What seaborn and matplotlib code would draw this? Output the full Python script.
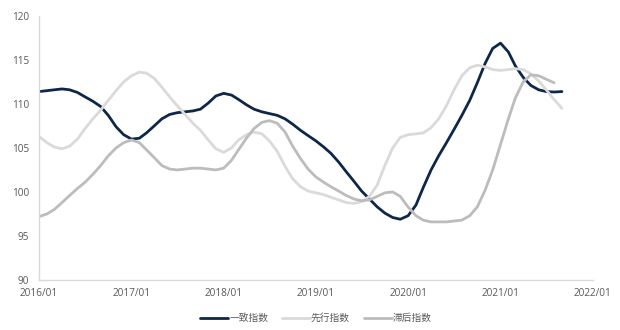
import numpy as np
import pandas as pd
import matplotlib
matplotlib.use("Agg")
import matplotlib.pyplot as plt
import matplotlib.dates as mdates
import seaborn as sns

start_month = "2016-01"
series_names = ["一致指数", "先行指数", "滞后指数"]

coincident = [111.4, 111.5, 111.6, 111.7, 111.6, 111.3, 110.8, 110.3, 109.7, 108.7,
              107.4, 106.5, 106.0, 106.1, 106.7, 107.5, 108.3, 108.8, 109.0, 109.1,
              109.2, 109.4, 110.1, 110.9, 111.2, 111.0, 110.5, 109.9, 109.4, 109.1,
              108.9, 108.7, 108.3, 107.7, 107.0, 106.4, 105.8, 105.1, 104.4, 103.4,
              102.3, 101.2, 100.1, 99.2, 98.3, 97.6, 97.1, 96.9, 97.3, 98.5,
              100.5, 102.5, 104.1, 105.6, 107.1, 108.7, 110.4, 112.4, 114.6, 116.3,
              116.9, 115.9, 114.3, 113.0, 112.1, 111.6, 111.4, 111.35, 111.4]

leading = [106.3, 105.6, 105.1, 104.9, 105.2, 106.0, 107.2, 108.3, 109.3, 110.4,
           111.5, 112.5, 113.2, 113.6, 113.5, 112.9, 111.9, 110.8, 109.8, 108.8,
           107.8, 107.0, 105.9, 104.9, 104.5, 105.0, 105.9, 106.5, 106.8, 106.6,
           105.8, 104.6, 102.9, 101.5, 100.6, 100.1, 99.9, 99.7, 99.4, 99.1,
           98.8, 98.7, 98.9, 99.5, 100.8, 103.0, 105.0, 106.2, 106.5, 106.6,
           106.7, 107.3, 108.3, 109.8, 111.6, 113.2, 114.1, 114.4, 114.2, 113.9,
           113.8, 113.9, 114.0, 113.9, 113.4, 112.6, 111.6, 110.5, 109.5]

lagging = [97.2, 97.5, 98.0, 98.8, 99.6, 100.4, 101.1, 102.0, 103.0, 104.1,
           105.0, 105.6, 105.9, 105.6, 104.8, 103.9, 103.0, 102.6, 102.5, 102.6,
           102.7, 102.7, 102.6, 102.5, 102.7, 103.6, 104.8, 106.1, 107.2, 107.9,
           108.1, 107.8, 106.8, 105.2, 103.8, 102.6, 101.7, 101.1, 100.6, 100.1,
           99.6, 99.2, 99.0, 99.1, 99.5, 99.9, 100.0, 99.5, 98.3, 97.3,
           96.8, 96.6, 96.6, 96.6, 96.7, 96.8, 97.3, 98.3, 100.2, 102.5,
           105.4, 108.3, 110.7, 112.5, 113.3, 113.2, 112.8, 112.4]

x_tick_labels = ["2016/01", "2017/01", "2018/01", "2019/01", "2020/01", "2021/01", "2022/01"]
y_ticks = [90, 95, 100, 105, 110, 115, 120]

colors = {"一致指数": "#0e2748", "先行指数": "#dadada", "滞后指数": "#bcbcbc"}

frames = []
for name, vals in zip(series_names, [coincident, leading, lagging]):
    dates = pd.date_range(start_month, periods=len(vals), freq="MS")
    frames.append(pd.DataFrame({"date": dates, "value": vals, "series": name}))
df = pd.concat(frames, ignore_index=True)

sns.set_theme(style="white")
plt.rcParams["font.family"] = ["Noto Sans CJK SC", "DejaVu Sans"]

fig = plt.figure(figsize=(6.2, 3.3), dpi=100)
ax = fig.add_axes([0.063, 0.1515, 0.893, 0.8005])

sns.lineplot(data=df, x="date", y="value", hue="series", hue_order=series_names,
             palette=colors, linewidth=2.0, ax=ax, legend=True)

tick_dates = [pd.Timestamp(t.replace("/", "-") + "-01") for t in x_tick_labels]
ax.set_xlim(tick_dates[0], tick_dates[-1])
ax.set_xticks(tick_dates)
ax.set_xticklabels(x_tick_labels)
ax.set_ylim(90, 120)
ax.set_yticks(y_ticks)
ax.set_xlabel("")
ax.set_ylabel("")
ax.tick_params(axis="x", labelsize=7.2, colors="#595959", length=0, pad=6)
ax.tick_params(axis="y", labelsize=7.2, colors="#595959", length=0, pad=7)
for lbl in ax.get_xticklabels() + ax.get_yticklabels():
    lbl.set_family(["Open Sans", "DejaVu Sans"])
for s in ["top", "right"]:
    ax.spines[s].set_visible(False)
ax.spines["left"].set_color("#d9d9d9")
ax.spines["bottom"].set_color("#d9d9d9")
ax.spines["left"].set_linewidth(1.0)
ax.spines["bottom"].set_linewidth(1.0)

handles, labels = ax.get_legend_handles_labels()
ax.legend(handles, labels, loc="center", bbox_to_anchor=(0.5, -0.144), ncol=3,
          frameon=False, fontsize=7, handlelength=2.9, handletextpad=0.1,
          columnspacing=1.4, labelcolor="#595959")

fig.savefig("out.png", dpi=100, facecolor="white")
